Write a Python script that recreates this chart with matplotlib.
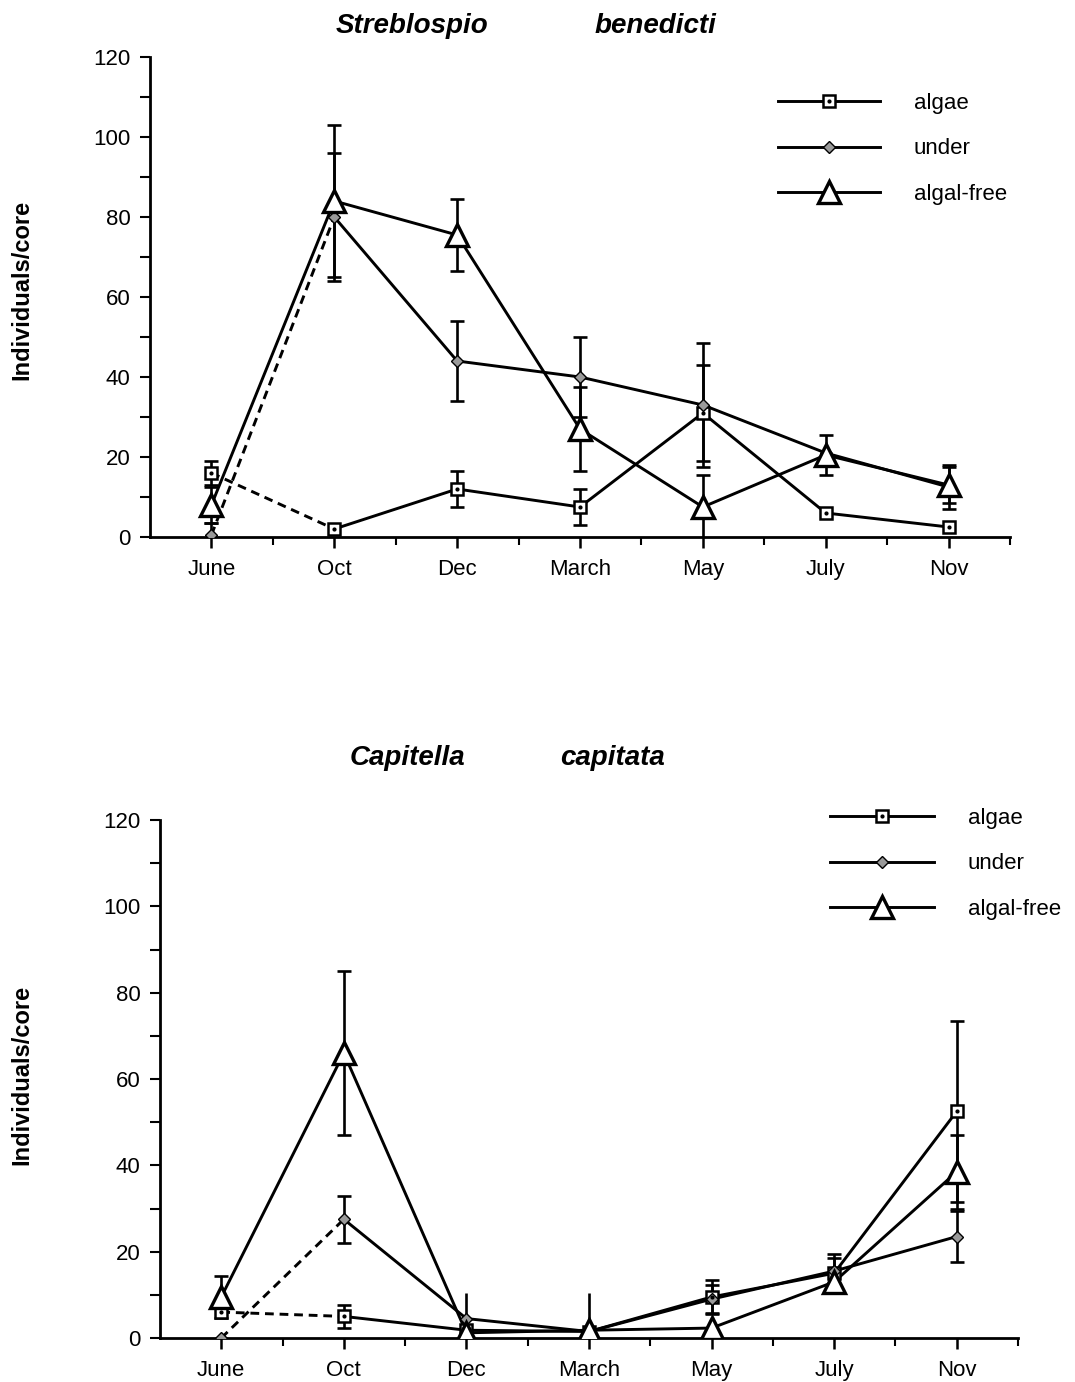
import matplotlib
matplotlib.use("Agg")
import matplotlib.pyplot as plt
from matplotlib.lines import Line2D
from matplotlib.legend_handler import HandlerTuple
import numpy as np

plt.rcParams['font.family'] = ['Liberation Sans', 'DejaVu Sans']

months = ['June', 'Oct', 'Dec', 'March', 'May', 'July', 'Nov']
series_names = ['algae', 'under', 'algal-free']

# Streblospio benedicti (individuals per core, mean and error)
streb_algae = [16, 2, 12, 7.5, 31, 6, 2.5]
streb_algae_err = [3, 0, 4.5, 4.5, 12, 0, 0]
streb_under = [0.5, 80, 44, 40, 33, 21, 12.5]
streb_under_err = [3, 16, 10, 10, 15.5, 0, 5.5]
streb_free = [8, 84, 75.5, 27, 7.5, 20.5, 13]
streb_free_err = [4.5, 19, 9, 10.5, 8, 5, 4.5]
streb_free_err_nocap = [0, 0, 0, 0, 0, 0, 0]

# Capitella capitata (individuals per core, mean and error)
capi_algae = [6, 5, 1.8, 1.5, 9.5, 15, 52.5]
capi_algae_err = [0, 2.7, 0, 0, 4, 3.5, 21]
capi_under = [0, 27.5, 4.5, 1.5, 9, 15.5, 23.5]
capi_under_err = [0, 5.5, 0, 0, 3.3, 4, 6]
capi_free = [9.5, 66, 1.2, 1.8, 2.3, 13, 38.5]
capi_free_err = [4.8, 19, 0, 0, 0, 0, 8.5]
capi_free_err_nocap = [0, 0, 9.2, 8.6, 0, 0, 0]

W, H = 1075, 1382
fig = plt.figure(figsize=(W / 100, H / 100), dpi=100)

LW = 2.1
DASH = (0, (3, 2))
TICK_FS = 16

def style_axes(ax):
    ax.set_xlim(-0.5, 6.5)
    ax.set_ylim(0, 120)
    for s in ('top', 'right'):
        ax.spines[s].set_visible(False)
    for s in ('left', 'bottom'):
        ax.spines[s].set_linewidth(2.0)
    x = np.arange(len(months))
    ax.set_xticks(x)
    ax.set_xticklabels(months)
    ax.set_xticks(np.arange(len(months)) + 0.5, minor=True)
    ax.set_yticks(np.arange(0, 121, 20))
    ax.set_yticks(np.arange(0, 121, 10), minor=True)
    ax.tick_params(axis='x', which='major', direction='out', length=8, width=1.8,
                   labelsize=TICK_FS, pad=8)
    ax.tick_params(axis='x', which='minor', direction='out', length=6, width=1.5)
    ax.tick_params(axis='y', which='both', direction='out', length=7, width=1.5,
                   labelsize=TICK_FS, pad=7)

def draw_panel(ax, algae, algae_err, under, under_err, free, free_err, free_err_nocap):
    x = np.arange(len(months))
    ekw = dict(fmt='none', ecolor='black', elinewidth=1.9, zorder=2)
    for vals, errs in ((algae, algae_err), (under, under_err), (free, free_err)):
        v = np.array(vals, float)
        e = np.array(errs, float)
        m = e > 0
        ax.errorbar(x[m], v[m], yerr=e[m], capsize=5, capthick=1.9, **ekw)
    v = np.array(free, float)
    e = np.array(free_err_nocap, float)
    m = e > 0
    ax.errorbar(x[m], v[m], yerr=[np.zeros(m.sum()), e[m]], capsize=0, **ekw)

    # first interval of algae and under is drawn dashed
    for vals in (algae, under):
        ax.plot(x[:2], vals[:2], color='black', lw=LW, linestyle=DASH, zorder=3)
        ax.plot(x[1:], vals[1:], color='black', lw=LW, zorder=3)
    ax.plot(x, free, color='black', lw=LW, zorder=3)

    ax.plot(x, algae, linestyle='none', marker='s', ms=8, mfc='white', mec='black',
            mew=1.8, zorder=5)
    ax.plot(x, algae, linestyle='none', marker='o', ms=2, mfc='black', mec='black',
            zorder=6)
    ax.plot(x, under, linestyle='none', marker='D', ms=6, mfc='#9a9a9a', mec='black',
            mew=1.0, zorder=5)
    ax.plot(x, free, linestyle='none', marker='^', ms=16, mfc='white', mec='black',
            mew=2.4, zorder=7)

def add_legend(x0, y0, handlelen):
    h_alg = (Line2D([], [], color='black', lw=LW, marker='s', ms=8, mfc='white',
                    mec='black', mew=1.8),
             Line2D([], [], linestyle='none', marker='o', ms=2, mfc='black', mec='black'))
    h_und = Line2D([], [], color='black', lw=LW, marker='D', ms=6, mfc='#9a9a9a',
                   mec='black', mew=1.0)
    h_free = Line2D([], [], color='black', lw=LW, marker='^', ms=16, mfc='white',
                    mec='black', mew=2.4)
    fig.legend([h_alg, h_und, h_free], series_names, loc='upper left',
               bbox_to_anchor=(x0 / W, 1 - y0 / H), frameon=False,
               fontsize=16, handlelength=handlelen, handletextpad=1.5,
               labelspacing=1.1, borderpad=0, borderaxespad=0,
               handler_map={tuple: HandlerTuple(ndivide=1, pad=0)})

ax1 = fig.add_axes([150 / W, 1 - 537 / H, 860 / W, 480 / H])
style_axes(ax1)
draw_panel(ax1, streb_algae, streb_algae_err, streb_under, streb_under_err,
           streb_free, streb_free_err, streb_free_err_nocap)
add_legend(778, 93, 4.6)

ax2 = fig.add_axes([160 / W, 1 - 1338 / H, 858 / W, 518 / H])
style_axes(ax2)
draw_panel(ax2, capi_algae, capi_algae_err, capi_under, capi_under_err,
           capi_free, capi_free_err, capi_free_err_nocap)
add_legend(830, 808, 4.7)

# panel titles
tkw = dict(fontsize=20, fontweight='bold', fontstyle='italic', ha='center', va='center')
fig.text(412 / W, 1 - 26 / H, 'Streblospio', **tkw)
fig.text(655 / W, 1 - 26 / H, 'benedicti', **tkw)
fig.text(407 / W, 1 - 758 / H, 'Capitella', **tkw)
fig.text(613 / W, 1 - 758 / H, 'capitata', **tkw)

# y-axis labels
lkw = dict(fontsize=17, fontweight='bold', rotation=90, ha='center', va='center')
fig.text(22 / W, 1 - 290 / H, 'Individuals/core', **lkw)
fig.text(22 / W, 1 - 1075 / H, 'Individuals/core', **lkw)

fig.savefig('out.png', dpi=100)
